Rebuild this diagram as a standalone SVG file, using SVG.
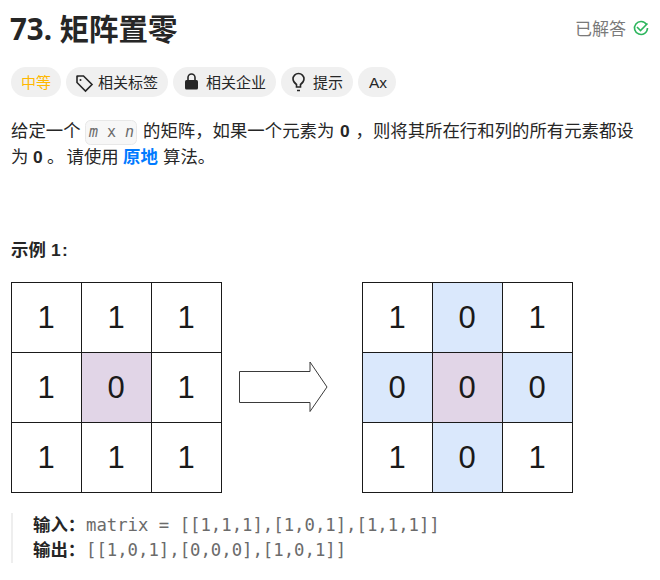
<svg xmlns="http://www.w3.org/2000/svg" width="660" height="580" viewBox="0 0 660 580">
<style>
text{font-family:"Liberation Sans","Noto Sans CJK SC",sans-serif;fill:#262626}
.t{font-size:15px}
.d{font-size:17.400px}
.b{font-weight:700}
.pill{fill:#f0f0f0}
.c{font-size:31px;text-anchor:middle;fill:#1a1a1a}
.cell{fill:#fff;stroke:#1a1a1a;stroke-width:1}
.mono{font-family:"DejaVu Sans Mono",monospace;font-size:17.300px;fill:#6b6b6b}
.code{font-family:"DejaVu Sans Mono",monospace;font-size:15px;fill:#6b6b6b}
.icon{fill:none;stroke:#262626;stroke-width:1.600}
</style>
<rect width="660" height="580" fill="#fff"/>
<g id="title"><text x="10" y="40" font-size="29.500" class="b" style="font-family:'Noto Sans','Noto Sans CJK SC',sans-serif">73. <tspan x="59.500">矩阵置零</tspan></text></g>
<g id="status"><text x="575" y="35" font-size="17" style="fill:#7a7a7a">已解答</text>
<path d="M646.500 24.500A6.500 6.500 0 1 0 647.500 28" fill="none" stroke="#2db55d" stroke-width="1.600"/><path d="M637 27l3.500 3.500 7-7" fill="none" stroke="#2db55d" stroke-width="1.600"/></g>
<g id="tag-difficulty"><rect class="pill" x="11" y="67" width="50" height="30" rx="15"/><text x="21" y="88" font-size="15" style="fill:#ffb800">中等</text></g>
<g id="tag-topics"><rect class="pill" x="66" y="67" width="102" height="30" rx="15"/><path class="icon" d="M77 76.500v6l8.500 8.500 6.500-6.500-8.500-8.500h-6l0 .5z"/><circle cx="80.500" cy="80" r="1" fill="#262626"/><text x="98" y="88" class="t">相关标签</text></g>
<g id="tag-company"><rect class="pill" x="173" y="67" width="103" height="30" rx="15"/><rect x="185" y="80" width="13" height="9.500" rx="1.500" fill="#262626"/><path class="icon" d="M188 80v-2.500a3.500 3.500 0 0 1 7 0V80"/><text x="206" y="88" class="t">相关企业</text></g>
<g id="tag-hint"><rect class="pill" x="281" y="67" width="72" height="30" rx="15"/><path class="icon" d="M296.500 87v-2.500c-2-1.500-3.500-3-3.500-5.500a5.500 5.500 0 0 1 11 0c0 2.500-1.500 4-3.500 5.500V87zM297 90.500h3"/><text x="313" y="88" class="t">提示</text></g>
<g id="tag-font"><rect class="pill" x="358" y="67" width="38" height="30" rx="15"/><text x="369" y="88" font-size="15.500">Ax</text></g>
<g id="description">
<text x="11" y="137" class="d">给定一个</text>
<rect x="85.500" y="120.500" width="51" height="24" rx="5" fill="#f7f7f7" stroke="#e8e8e8"/>
<text x="89" y="137" class="code" font-style="italic">m</text>
<text x="107" y="137" class="code">x</text>
<text x="125" y="137" class="code" font-style="italic">n</text>
<text x="143" y="137" class="d">的矩阵，如果一个元素为<tspan x="340" class="b">0</tspan><tspan x="355.500">，则将其所在行和列的所有元素都设</tspan></text>
<text x="11" y="163" class="d">为<tspan x="33" class="b">0</tspan><tspan x="47">。</tspan><tspan x="66.500">请使用</tspan><tspan x="123" class="b" style="fill:#007aff">原地</tspan><tspan x="163">算法。</tspan></text>
</g>
<g id="example-heading"><text x="11" y="256" class="b d">示例<tspan x="51">1</tspan><tspan x="62">:</tspan></text></g>
<g id="matrix-input">
<rect class="cell" x="11.500" y="282.500" width="70" height="70"/><rect class="cell" x="81.500" y="282.500" width="70" height="70"/><rect class="cell" x="151.500" y="282.500" width="70" height="70"/>
<rect class="cell" x="11.500" y="352.500" width="70" height="70"/><rect class="cell" x="81.500" y="352.500" width="70" height="70" style="fill:#e1d5e7"/><rect class="cell" x="151.500" y="352.500" width="70" height="70"/>
<rect class="cell" x="11.500" y="422.500" width="70" height="70"/><rect class="cell" x="81.500" y="422.500" width="70" height="70"/><rect class="cell" x="151.500" y="422.500" width="70" height="70"/>
<text class="c" x="46" y="328">1</text><text class="c" x="116" y="328">1</text><text class="c" x="186" y="328">1</text>
<text class="c" x="46" y="398">1</text><text class="c" x="116" y="398">0</text><text class="c" x="186" y="398">1</text>
<text class="c" x="46" y="468">1</text><text class="c" x="116" y="468">1</text><text class="c" x="186" y="468">1</text>
</g>
<g id="connectors"><path d="M239.500 371.500H310V362L327 387 310 411.500V402.500H239.500Z" fill="#fff" stroke="#3a3a3a" stroke-width="1"/></g>
<g id="matrix-output">
<rect class="cell" x="362.500" y="282.500" width="70" height="70"/><rect class="cell" x="432.500" y="282.500" width="70" height="70" style="fill:#dae8fc"/><rect class="cell" x="502.500" y="282.500" width="70" height="70"/>
<rect class="cell" x="362.500" y="352.500" width="70" height="70" style="fill:#dae8fc"/><rect class="cell" x="432.500" y="352.500" width="70" height="70" style="fill:#e1d5e7"/><rect class="cell" x="502.500" y="352.500" width="70" height="70" style="fill:#dae8fc"/>
<rect class="cell" x="362.500" y="422.500" width="70" height="70"/><rect class="cell" x="432.500" y="422.500" width="70" height="70" style="fill:#dae8fc"/><rect class="cell" x="502.500" y="422.500" width="70" height="70"/>
<text class="c" x="397" y="328">1</text><text class="c" x="467" y="328">0</text><text class="c" x="537" y="328">1</text>
<text class="c" x="397" y="398">0</text><text class="c" x="467" y="398">0</text><text class="c" x="537" y="398">0</text>
<text class="c" x="397" y="468">1</text><text class="c" x="467" y="468">0</text><text class="c" x="537" y="468">1</text>
</g>
<g id="example-block">
<rect x="11" y="513" width="2" height="50" fill="#eeeeee"/>
<text x="33" y="531" class="b d">输入：</text><text x="86" y="531" class="mono">matrix = [[1,1,1],[1,0,1],[1,1,1]]</text>
<text x="33" y="556" class="b d">输出：</text><text x="86" y="556" class="mono">[[1,0,1],[0,0,0],[1,0,1]]</text>
</g>
</svg>
